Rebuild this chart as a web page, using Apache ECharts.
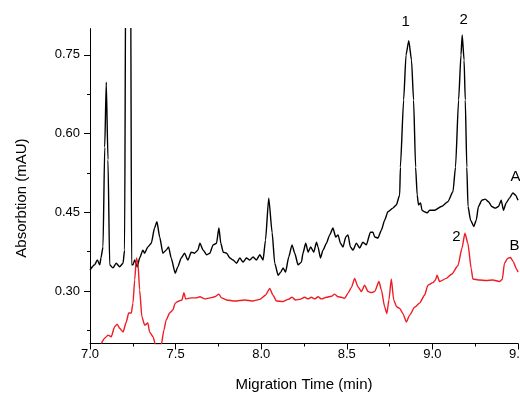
<!DOCTYPE html>
<html>
<head>
<meta charset="utf-8">
<script src="https://cdn.jsdelivr.net/npm/echarts@6/dist/echarts.min.js"></script>
<style>html,body{margin:0;padding:0;background:#fff}#c{width:520px;height:396px}</style>
</head>
<body>
<div id="c"></div>
<script>
// Trace A (black): [migration time (min), absorption (mAU)]
var traceA = [[7.000,0.340],[7.027,0.350],[7.043,0.359],[7.057,0.350],[7.064,0.363],[7.076,0.384],[7.086,0.574],[7.095,0.698],[7.105,0.550],[7.115,0.350],[7.134,0.344],[7.153,0.353],[7.173,0.346],[7.193,0.353],[7.202,0.378],[7.209,0.950],[7.222,0.850],[7.237,0.950],[7.243,0.350],[7.251,0.350],[7.261,0.359],[7.276,0.346],[7.290,0.363],[7.309,0.378],[7.319,0.372],[7.338,0.384],[7.358,0.391],[7.377,0.420],[7.391,0.432],[7.407,0.403],[7.426,0.372],[7.445,0.378],[7.459,0.384],[7.474,0.363],[7.498,0.334],[7.513,0.346],[7.533,0.363],[7.552,0.372],[7.572,0.359],[7.591,0.374],[7.611,0.372],[7.630,0.378],[7.642,0.391],[7.661,0.378],[7.681,0.369],[7.700,0.372],[7.719,0.388],[7.739,0.391],[7.753,0.420],[7.764,0.391],[7.778,0.374],[7.798,0.372],[7.817,0.363],[7.836,0.359],[7.856,0.353],[7.875,0.363],[7.894,0.355],[7.914,0.363],[7.933,0.359],[7.953,0.365],[7.972,0.359],[7.992,0.369],[8.011,0.359],[8.025,0.397],[8.044,0.477],[8.064,0.411],[8.079,0.353],[8.099,0.330],[8.114,0.336],[8.128,0.344],[8.142,0.336],[8.161,0.365],[8.180,0.388],[8.196,0.372],[8.215,0.350],[8.235,0.355],[8.244,0.372],[8.260,0.391],[8.274,0.374],[8.289,0.384],[8.307,0.374],[8.323,0.393],[8.332,0.384],[8.346,0.363],[8.361,0.378],[8.381,0.391],[8.400,0.407],[8.419,0.420],[8.435,0.403],[8.449,0.407],[8.463,0.391],[8.478,0.384],[8.494,0.403],[8.507,0.407],[8.521,0.384],[8.536,0.378],[8.556,0.391],[8.575,0.382],[8.594,0.393],[8.614,0.388],[8.638,0.412],[8.653,0.412],[8.663,0.403],[8.682,0.401],[8.702,0.416],[8.721,0.435],[8.740,0.451],[8.769,0.458],[8.789,0.464],[8.809,0.483],[8.813,0.536],[8.832,0.664],[8.846,0.750],[8.862,0.777],[8.878,0.740],[8.890,0.664],[8.902,0.536],[8.911,0.483],[8.919,0.464],[8.931,0.468],[8.939,0.454],[8.954,0.451],[8.970,0.449],[8.984,0.454],[9.013,0.454],[9.052,0.461],[9.090,0.470],[9.120,0.489],[9.135,0.536],[9.153,0.664],[9.167,0.750],[9.174,0.788],[9.185,0.740],[9.192,0.664],[9.201,0.536],[9.208,0.461],[9.223,0.435],[9.242,0.423],[9.256,0.435],[9.269,0.461],[9.289,0.473],[9.309,0.475],[9.328,0.470],[9.347,0.461],[9.367,0.458],[9.386,0.461],[9.402,0.473],[9.415,0.454],[9.431,0.468],[9.450,0.477],[9.470,0.487],[9.485,0.483],[9.500,0.473]];

// Trace B (red)
var traceB = [[7.066,0.200],[7.086,0.210],[7.105,0.216],[7.124,0.213],[7.144,0.232],[7.159,0.237],[7.173,0.229],[7.193,0.222],[7.212,0.241],[7.226,0.258],[7.241,0.258],[7.251,0.277],[7.261,0.321],[7.271,0.363],[7.280,0.353],[7.290,0.302],[7.303,0.251],[7.319,0.235],[7.338,0.239],[7.348,0.222],[7.368,0.213],[7.383,0.197],[7.416,0.197],[7.432,0.226],[7.445,0.245],[7.465,0.258],[7.484,0.264],[7.498,0.277],[7.513,0.280],[7.537,0.283],[7.549,0.297],[7.558,0.285],[7.591,0.287],[7.620,0.287],[7.642,0.289],[7.671,0.285],[7.700,0.287],[7.729,0.289],[7.753,0.294],[7.768,0.287],[7.798,0.283],[7.846,0.281],[7.904,0.283],[7.953,0.281],[7.992,0.284],[8.025,0.292],[8.050,0.305],[8.069,0.292],[8.089,0.281],[8.128,0.280],[8.157,0.284],[8.180,0.288],[8.200,0.283],[8.225,0.284],[8.254,0.288],[8.274,0.285],[8.293,0.288],[8.313,0.285],[8.332,0.289],[8.352,0.285],[8.381,0.288],[8.410,0.290],[8.429,0.294],[8.449,0.289],[8.468,0.288],[8.488,0.286],[8.507,0.296],[8.527,0.307],[8.546,0.324],[8.565,0.308],[8.585,0.299],[8.604,0.311],[8.624,0.299],[8.643,0.297],[8.663,0.299],[8.688,0.318],[8.702,0.302],[8.721,0.270],[8.734,0.257],[8.746,0.283],[8.760,0.323],[8.774,0.283],[8.791,0.270],[8.809,0.267],[8.828,0.257],[8.848,0.241],[8.867,0.254],[8.896,0.269],[8.925,0.277],[8.954,0.292],[8.974,0.311],[9.003,0.316],[9.018,0.321],[9.027,0.330],[9.042,0.318],[9.081,0.324],[9.112,0.332],[9.149,0.348],[9.173,0.382],[9.190,0.410],[9.207,0.391],[9.227,0.342],[9.236,0.323],[9.275,0.321],[9.314,0.320],[9.353,0.321],[9.392,0.318],[9.408,0.322],[9.421,0.353],[9.439,0.362],[9.456,0.364],[9.472,0.356],[9.491,0.342],[9.500,0.336]];

var yTickLabels = [0.30, 0.45, 0.60, 0.75];
var yMinorTicks = [0.225, 0.375, 0.525, 0.675];

// Peak / trace annotations: [text, time, absorption, colour]
var annotations = [
  ['1', 8.844, 0.813, '#000'],
  ['2', 9.182, 0.817, '#000'],
  ['A', 9.485, 0.517, '#000'],
  ['2', 9.141, 0.403, '#000'],
  ['B', 9.479, 0.386, '#000']
];

var FONT = 'Liberation Sans, Arial, sans-serif';
var chart = echarts.init(document.getElementById('c'), null, {renderer: 'canvas'});

var option = {
  animation: false,
  backgroundColor: '#fff',
  grid: {left: 90, right: 2, top: 28.6, bottom: 52.5, containLabel: false, outerBoundsMode: 'none'},
  xAxis: {
    type: 'value', min: 7, max: 9.5, interval: 0.5,
    name: 'Migration Time (min)', nameLocation: 'middle', nameGap: 34,
    nameTextStyle: {fontFamily: FONT, fontSize: 15, color: '#000'},
    axisLine: {show: true, lineStyle: {color: '#000', width: 1}},
    axisTick: {show: true, inside: false, length: 6, lineStyle: {color: '#000', width: 1}},
    minorTick: {show: true, splitNumber: 2, length: 3, lineStyle: {color: '#000', width: 1}},
    axisLabel: {fontFamily: FONT, fontSize: 13, color: '#000', margin: 4, hideOverlap: false,
      formatter: function (v) { return v.toFixed(1); }},
    splitLine: {show: false}
  },
  yAxis: [{
    type: 'value', min: 0.2, max: 0.8,
    name: 'Absorbtion (mAU)', nameLocation: 'middle', nameGap: 61,
    nameTextStyle: {fontFamily: FONT, fontSize: 15, color: '#000', padding: [0, 24, 0, 0]},
    axisLine: {show: true, lineStyle: {color: '#000', width: 1}},
    axisTick: {show: true, length: 6, customValues: yTickLabels, lineStyle: {color: '#000', width: 1}},
    axisLabel: {fontFamily: FONT, fontSize: 13, color: '#000', margin: 10, customValues: yTickLabels,
      formatter: function (v) { return v.toFixed(2); }},
    splitLine: {show: false}
  }, {
    type: 'value', min: 0.2, max: 0.8, position: 'left',
    axisLine: {show: false},
    axisTick: {show: true, length: 3, customValues: yMinorTicks, lineStyle: {color: '#000', width: 1}},
    axisLabel: {show: false},
    splitLine: {show: false}
  }],
  series: [{
    name: 'A', type: 'line', data: traceA, yAxisIndex: 0,
    showSymbol: false, symbol: 'none', clip: true,
    smooth: 0.2, smoothMonotone: 'x',
    lineStyle: {color: '#000', width: 1.4}
  }, {
    name: 'B', type: 'line', data: traceB, yAxisIndex: 0,
    showSymbol: false, symbol: 'none', clip: true,
    smooth: 0.2, smoothMonotone: 'x',
    lineStyle: {color: '#ee1c24', width: 1.4}
  }]
};
chart.setOption(option);

var g = annotations.map(function (a) {
  var p = chart.convertToPixel({xAxisIndex: 0, yAxisIndex: 0}, [a[1], a[2]]);
  return {type: 'text', x: p[0], y: p[1],
    style: {text: a[0], fill: a[3], font: '15px ' + FONT, textAlign: 'center', textVerticalAlign: 'middle'}};
});
chart.setOption({graphic: g});
</script>
</body>
</html>
